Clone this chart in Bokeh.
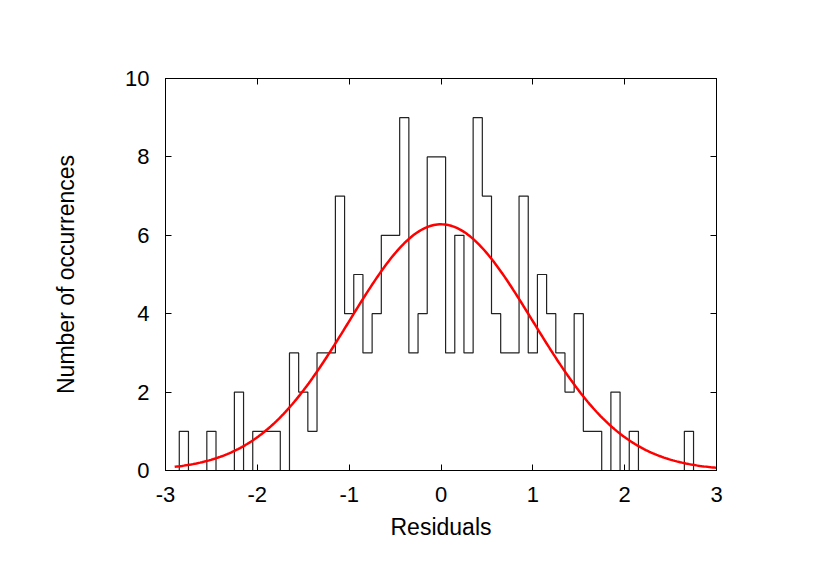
import numpy as np
from bokeh.plotting import figure
from bokeh.models import LinearAxis, FixedTicker, Range1d
from bokeh.embed import file_html
from bokeh.resources import INLINE

# Histogram bins (centres, width 0.1) and counts
bin_centers = [round(-2.8 + 0.1 * i, 1) for i in range(56)]
counts = [1, 0, 0, 1, 0, 0, 2, 0, 1, 1, 1, 0, 3, 2, 1, 3, 3, 7, 4, 5,
          3, 4, 6, 6, 9, 3, 4, 8, 8, 3, 6, 3, 9, 7, 4, 3, 3, 7, 3, 5,
          4, 3, 2, 4, 1, 1, 0, 2, 0, 1, 0, 0, 0, 0, 0, 1]
bin_width = 0.1

# Gaussian fit parameters
fit_amp = 6.28
fit_mu = 0.0
fit_sigma = 1.0
fit_xmin, fit_xmax = -2.9, 3.0

x_ticks = [-3, -2, -1, 0, 1, 2, 3]
x_tick_labels = ["-3", "-2", "-1", "0", "1", "2", "3"]
y_ticks = [0, 2, 4, 6, 8, 10]
y_tick_labels = ["0", "2", "4", "6", "8", "10"]

FONT = "Liberation Sans"
FS_TICK = "22px"
FS_LABEL = "23px"

p = figure(frame_width=551, frame_height=392, output_backend="svg",
           toolbar_location=None, x_range=Range1d(-3, 3), y_range=Range1d(0, 10),
           min_border_left=165, min_border_top=78, min_border_right=90,
           min_border_bottom=95, background_fill_color="white",
           border_fill_color="white")
p.grid.visible = False
p.outline_line_color = "black"
p.outline_line_width = 1

# step outline
sx, sy = [bin_centers[0] - bin_width / 2], [0]
for c, h in zip(bin_centers, counts):
    sx += [c - bin_width / 2, c + bin_width / 2]
    sy += [h, h]
sx.append(bin_centers[-1] + bin_width / 2)
sy.append(0)
p.line(sx, sy, line_color="#222222", line_width=1.2)

xs = np.linspace(fit_xmin, fit_xmax, 300)
ys = fit_amp * np.exp(-0.5 * ((xs - fit_mu) / fit_sigma) ** 2)
p.line(xs, ys, line_color="#ff0000", line_width=2.5)

def style(ax, ticks, labels, show):
    ax.ticker = FixedTicker(ticks=ticks)
    ax.major_label_overrides = {t: l for t, l in zip(ticks, labels)}
    ax.major_tick_in = 6
    ax.major_tick_out = 0
    ax.minor_tick_line_color = None
    ax.axis_line_color = "black"
    ax.major_tick_line_color = "black"
    ax.major_label_text_font = FONT
    ax.major_label_text_font_size = FS_TICK
    ax.major_label_text_color = "black" if show else None
    ax.axis_label_text_font = FONT
    ax.axis_label_text_font_size = FS_LABEL
    ax.axis_label_text_font_style = "normal"
    ax.axis_label_text_color = "black"

xa = p.xaxis[0]
style(xa, x_ticks, x_tick_labels, True)
xa.axis_label = "Residuals"
xa.major_label_standoff = 16
xa.axis_label_standoff = 9

ya = p.yaxis[0]
style(ya, y_ticks, y_tick_labels, True)
ya.axis_label = "Number of occurrences"
ya.major_label_standoff = 16
ya.axis_label_standoff = 43

ra = LinearAxis()
style(ra, y_ticks, y_tick_labels, False)
p.add_layout(ra, "right")
ta = LinearAxis()
style(ta, x_ticks, x_tick_labels, False)
p.add_layout(ta, "above")

open("out.html", "w").write(file_html(p, INLINE))
